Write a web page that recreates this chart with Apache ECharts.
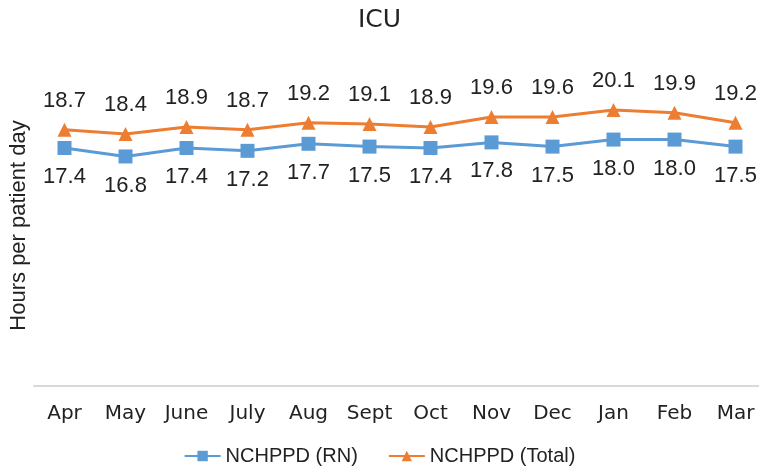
<!DOCTYPE html>
<html>
<head>
<meta charset="utf-8">
<script src="https://cdn.jsdelivr.net/npm/echarts@6/dist/echarts.min.js"></script>
<style>
  html, body { margin: 0; padding: 0; background: #fff; }
  #main { width: 759px; height: 472px; }
</style>
</head>
<body>
<div id="main"></div>
<script>
var months = ['Apr', 'May', 'June', 'July', 'Aug', 'Sept', 'Oct', 'Nov', 'Dec', 'Jan', 'Feb', 'Mar'];
var rnHours = [17.4, 16.8, 17.4, 17.2, 17.7, 17.5, 17.4, 17.8, 17.5, 18.0, 18.0, 17.5];
var totalHours = [18.7, 18.4, 18.9, 18.7, 19.2, 19.1, 18.9, 19.6, 19.6, 20.1, 19.9, 19.2];

var chart = echarts.init(document.getElementById('main'), null, { renderer: 'canvas' });

var narrow = '"Liberation Sans Narrow", "Liberation Sans", sans-serif';

// value labels (above for total, below for RN)
var labelStyle = {
  show: true,
  fontSize: 22,
  color: '#222',
  fontFamily: narrow,
  distance: 11,
  formatter: function (p) { return p.value.toFixed(1); }
};

var option = {
  animation: false,
  color: ['#5B9BD5', '#ED7D31'],
  title: {
    text: 'ICU',
    left: 'center',
    top: 3,
    textStyle: { fontSize: 25, fontWeight: 'normal', color: '#222', fontFamily: 'DejaVu Sans' }
  },
  legend: {
    bottom: 1,
    left: 'center',
    itemWidth: 36,
    itemHeight: 13,
    itemGap: 30,
    textStyle: { fontSize: 20, color: '#222', fontFamily: narrow },
    data: ['NCHPPD (RN)', 'NCHPPD (Total)']
  },
  grid: { left: 34, top: 41, width: 732, height: 345, outerBoundsMode: 'none', containLabel: false },
  xAxis: {
    type: 'category',
    data: months,
    axisLine: { lineStyle: { color: '#d9d9d9', width: 2 } },
    axisTick: { show: false },
    axisLabel: { fontSize: 20, color: '#222', fontFamily: 'DejaVu Sans', margin: 18 }
  },
  yAxis: {
    type: 'value',
    min: 0.5,
    max: 25,
    name: 'Hours per patient day',
    nameLocation: 'middle',
    nameGap: 4,
    nameTextStyle: { fontSize: 22, color: '#222', fontFamily: 'Liberation Sans', padding: [0, 24, 0, 0] },
    axisLine: { show: false },
    axisTick: { show: false },
    axisLabel: { show: false },
    splitLine: { show: false }
  },
  series: [
    {
      name: 'NCHPPD (RN)',
      type: 'line',
      data: rnHours,
      symbol: 'rect',
      symbolSize: 14,
      lineStyle: { width: 3 },
      label: Object.assign({}, labelStyle, { position: 'bottom' })
    },
    {
      name: 'NCHPPD (Total)',
      type: 'line',
      data: totalHours,
      symbol: 'triangle',
      symbolSize: 14,
      lineStyle: { width: 3 },
      label: Object.assign({}, labelStyle, { position: 'top' })
    }
  ]
};

chart.setOption(option);
</script>
</body>
</html>
